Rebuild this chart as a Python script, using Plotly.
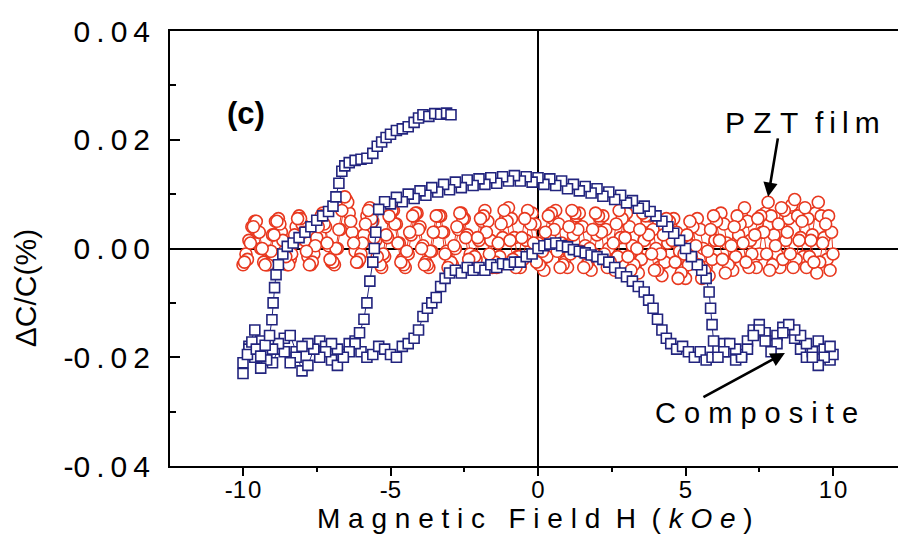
import plotly.graph_objects as go

# ---------------- data ----------------
# PZT film: forward field sweep (-10 -> 10 kOe)
pzt_h_up = [-10.0, -9.9, -9.8, -9.7, -9.6, -9.5, -9.4, -9.3, -9.2, -9.1,
            -9.0, -8.9, -8.8, -8.7, -8.6, -8.5, -8.4, -8.3, -8.2, -8.1,
            -8.0, -7.9, -7.8, -7.7, -7.6, -7.5, -7.4, -7.3, -7.2, -7.1,
            -7.0, -6.9, -6.8, -6.7, -6.6, -6.5, -6.4, -6.3, -6.2, -6.1,
            -6.0, -5.9, -5.8, -5.7, -5.6, -5.5, -5.4, -5.3, -5.2, -5.1,
            -5.0, -4.9, -4.8, -4.7, -4.6, -4.5, -4.4, -4.3, -4.2, -4.1,
            -4.0, -3.9, -3.8, -3.7, -3.6, -3.5, -3.4, -3.3, -3.2, -3.1,
            -3.0, -2.9, -2.8, -2.7, -2.6, -2.5, -2.4, -2.3, -2.2, -2.1,
            -2.0, -1.9, -1.8, -1.7, -1.6, -1.5, -1.4, -1.3, -1.2, -1.1,
            -1.0, -0.9, -0.8, -0.7, -0.6, -0.5, -0.4, -0.3, -0.2, -0.1,
            0.0, 0.1, 0.2, 0.3, 0.4, 0.5, 0.6, 0.7, 0.8, 0.9,
            1.0, 1.1, 1.2, 1.3, 1.4, 1.5, 1.6, 1.7, 1.8, 1.9,
            2.0, 2.1, 2.2, 2.3, 2.4, 2.5, 2.6, 2.7, 2.8, 2.9,
            3.0, 3.1, 3.2, 3.3, 3.4, 3.5, 3.6, 3.7, 3.8, 3.9,
            4.0, 4.1, 4.2, 4.3, 4.4, 4.5, 4.6, 4.7, 4.8, 4.9,
            5.0, 5.1, 5.2, 5.3, 5.4, 5.5, 5.6, 5.7, 5.8, 5.9,
            6.0, 6.1, 6.2, 6.3, 6.4, 6.5, 6.6, 6.7, 6.8, 6.9,
            7.0, 7.1, 7.2, 7.3, 7.4, 7.5, 7.6, 7.7, 7.8, 7.9,
            8.0, 8.1, 8.2, 8.3, 8.4, 8.5, 8.6, 8.7, 8.8, 8.9,
            9.0, 9.1, 9.2, 9.3, 9.4, 9.5, 9.6, 9.7, 9.8, 9.9,
            10.0]
pzt_c_up = [-0.0030, -0.0010, 0.0015, 0.0040, 0.0050, 0.0030, 0.0000, -0.0025, -0.0030, -0.0005,
            0.0025, 0.0050, 0.0055, 0.0030, -0.0005, -0.0030, -0.0020, 0.0010, 0.0040, 0.0060,
            0.0045, 0.0015, -0.0015, -0.0030, -0.0010, 0.0020, 0.0050, 0.0065, 0.0040, 0.0005,
            -0.0025, -0.0030, 0.0000, 0.0035, 0.0070, 0.0090, 0.0065, 0.0030, -0.0005, -0.0025,
            -0.0010, 0.0025, 0.0060, 0.0075, 0.0050, 0.0015, -0.0020, -0.0035, -0.0015, 0.0020,
            0.0055, 0.0070, 0.0045, 0.0010, -0.0020, -0.0035, -0.0010, 0.0025, 0.0060, 0.0065,
            0.0040, 0.0005, -0.0025, -0.0035, -0.0005, 0.0030, 0.0060, 0.0060, 0.0030, -0.0005,
            -0.0030, -0.0030, 0.0000, 0.0035, 0.0065, 0.0055, 0.0025, -0.0010, -0.0035, -0.0020,
            0.0015, 0.0050, 0.0070, 0.0050, 0.0015, -0.0020, -0.0035, -0.0015, 0.0020, 0.0055,
            0.0075, 0.0055, 0.0020, -0.0015, -0.0035, -0.0020, 0.0015, 0.0050, 0.0065, 0.0045,
            0.0010, -0.0025, -0.0040, -0.0015, 0.0020, 0.0055, 0.0070, 0.0045, 0.0010, -0.0025,
            -0.0035, -0.0010, 0.0025, 0.0060, 0.0065, 0.0040, 0.0005, -0.0030, -0.0040, -0.0010,
            0.0025, 0.0055, 0.0060, 0.0035, 0.0000, -0.0030, -0.0040, -0.0015, 0.0020, 0.0055,
            0.0065, 0.0040, 0.0005, -0.0030, -0.0045, -0.0020, 0.0015, 0.0050, 0.0060, 0.0035,
            0.0000, -0.0035, -0.0050, -0.0025, 0.0010, 0.0045, 0.0055, 0.0030, -0.0005, -0.0040,
            -0.0055, -0.0030, 0.0005, 0.0040, 0.0055, 0.0035, 0.0000, -0.0035, -0.0050, -0.0020,
            0.0015, 0.0050, 0.0065, 0.0045, 0.0010, -0.0025, -0.0040, -0.0015, 0.0025, 0.0060,
            0.0075, 0.0050, 0.0015, -0.0020, -0.0035, -0.0010, 0.0030, 0.0065, 0.0085, 0.0060,
            0.0025, -0.0010, -0.0035, -0.0020, 0.0015, 0.0055, 0.0080, 0.0090, 0.0060, 0.0020,
            -0.0015, -0.0035, -0.0015, 0.0025, 0.0065, 0.0085, 0.0060, 0.0020, -0.0020, -0.0040,
            -0.0010]

# PZT film: return field sweep (10 -> -10 kOe)
pzt_h_down = [9.95, 9.85, 9.75, 9.65, 9.55, 9.45, 9.35, 9.25, 9.15, 9.05,
              8.95, 8.85, 8.75, 8.65, 8.55, 8.45, 8.35, 8.25, 8.15, 8.05,
              7.95, 7.85, 7.75, 7.65, 7.55, 7.45, 7.35, 7.25, 7.15, 7.05,
              6.95, 6.85, 6.75, 6.65, 6.55, 6.45, 6.35, 6.25, 6.15, 6.05,
              5.95, 5.85, 5.75, 5.65, 5.55, 5.45, 5.35, 5.25, 5.15, 5.05,
              4.95, 4.85, 4.75, 4.65, 4.55, 4.45, 4.35, 4.25, 4.15, 4.05,
              3.95, 3.85, 3.75, 3.65, 3.55, 3.45, 3.35, 3.25, 3.15, 3.05,
              2.95, 2.85, 2.75, 2.65, 2.55, 2.45, 2.35, 2.25, 2.15, 2.05,
              1.95, 1.85, 1.75, 1.65, 1.55, 1.45, 1.35, 1.25, 1.15, 1.05,
              0.95, 0.85, 0.75, 0.65, 0.55, 0.45, 0.35, 0.25, 0.15, 0.05,
              -0.05, -0.15, -0.25, -0.35, -0.45, -0.55, -0.65, -0.75, -0.85, -0.95,
              -1.05, -1.15, -1.25, -1.35, -1.45, -1.55, -1.65, -1.75, -1.85, -1.95,
              -2.05, -2.15, -2.25, -2.35, -2.45, -2.55, -2.65, -2.75, -2.85, -2.95,
              -3.05, -3.15, -3.25, -3.35, -3.45, -3.55, -3.65, -3.75, -3.85, -3.95,
              -4.05, -4.15, -4.25, -4.35, -4.45, -4.55, -4.65, -4.75, -4.85, -4.95,
              -5.05, -5.15, -5.25, -5.35, -5.45, -5.55, -5.65, -5.75, -5.85, -5.95,
              -6.05, -6.15, -6.25, -6.35, -6.45, -6.55, -6.65, -6.75, -6.85, -6.95,
              -7.05, -7.15, -7.25, -7.35, -7.45, -7.55, -7.65, -7.75, -7.85, -7.95,
              -8.05, -8.15, -8.25, -8.35, -8.45, -8.55, -8.65, -8.75, -8.85, -8.95,
              -9.05, -9.15, -9.25, -9.35, -9.45, -9.55, -9.65, -9.75, -9.85, -9.95]
pzt_c_down = [0.0030, 0.0060, 0.0045, 0.0010, -0.0025, -0.0045, -0.0025, 0.0015, 0.0055, 0.0075,
              0.0050, 0.0015, -0.0020, -0.0035, -0.0010, 0.0030, 0.0070, 0.0075, 0.0045, 0.0005,
              -0.0030, -0.0040, -0.0010, 0.0030, 0.0060, 0.0055, 0.0025, -0.0010, -0.0035, -0.0025,
              0.0010, 0.0045, 0.0060, 0.0040, 0.0005, -0.0030, -0.0045, -0.0020, 0.0015, 0.0050,
              0.0060, 0.0035, -0.0005, -0.0040, -0.0055, -0.0030, 0.0005, 0.0040, 0.0050, 0.0025,
              -0.0010, -0.0045, -0.0055, -0.0025, 0.0015, 0.0050, 0.0055, 0.0025, -0.0010, -0.0040,
              -0.0040, -0.0010, 0.0025, 0.0060, 0.0065, 0.0035, 0.0000, -0.0030, -0.0040, -0.0015,
              0.0020, 0.0055, 0.0070, 0.0045, 0.0010, -0.0025, -0.0035, -0.0010, 0.0030, 0.0060,
              0.0065, 0.0035, 0.0000, -0.0030, -0.0035, -0.0005, 0.0035, 0.0065, 0.0070, 0.0040,
              0.0005, -0.0030, -0.0035, -0.0005, 0.0035, 0.0065, 0.0060, 0.0030, -0.0005, -0.0030,
              -0.0025, 0.0010, 0.0045, 0.0070, 0.0055, 0.0020, -0.0015, -0.0035, -0.0020, 0.0015,
              0.0050, 0.0070, 0.0045, 0.0010, -0.0025, -0.0035, -0.0010, 0.0030, 0.0060, 0.0055,
              0.0020, -0.0015, -0.0035, -0.0020, 0.0020, 0.0055, 0.0065, 0.0040, 0.0005, -0.0025,
              -0.0035, -0.0010, 0.0030, 0.0060, 0.0060, 0.0030, -0.0005, -0.0030, -0.0030, 0.0000,
              0.0035, 0.0065, 0.0060, 0.0030, -0.0005, -0.0030, -0.0025, 0.0010, 0.0045, 0.0070,
              0.0060, 0.0025, -0.0010, -0.0030, -0.0015, 0.0020, 0.0055, 0.0070, 0.0045, 0.0010,
              -0.0020, -0.0025, 0.0010, 0.0050, 0.0085, 0.0095, 0.0070, 0.0035, 0.0000, -0.0025,
              -0.0020, 0.0010, 0.0045, 0.0060, 0.0040, 0.0005, -0.0025, -0.0030, -0.0005, 0.0030,
              0.0055, 0.0055, 0.0025, -0.0010, -0.0030, -0.0015, 0.0015, 0.0045, 0.0050, 0.0025,
              -0.0005, -0.0030, -0.0030, 0.0000, 0.0030, 0.0050, 0.0040, 0.0010, -0.0020, -0.0025]

# Composite: forward sweep (-10 -> 10 kOe), lower branch
comp_h_fwd = [-10.0, -9.8, -9.6, -9.4, -9.2, -9.0, -8.8, -8.6, -8.4, -8.2,
              -8.0, -7.8, -7.6, -7.4, -7.2, -7.0, -6.8, -6.6, -6.4, -6.2,
              -6.0, -5.8, -5.6, -5.4, -5.2, -5.0, -4.8, -4.6, -4.4, -4.2,
              -4.05, -3.9, -3.75, -3.6, -3.45, -3.3, -3.15, -3.0, -2.8, -2.6,
              -2.4, -2.2, -2.0, -1.8, -1.6, -1.4, -1.2, -1.0, -0.8, -0.6,
              -0.4, -0.2, 0.0, 0.2, 0.4, 0.6, 0.8, 1.0, 1.2, 1.4,
              1.6, 1.8, 2.0, 2.2, 2.4, 2.6, 2.8, 3.0, 3.2, 3.4,
              3.6, 3.75, 3.9, 4.05, 4.2, 4.35, 4.5, 4.7, 4.9, 5.1,
              5.3, 5.5, 5.7, 5.9, 6.1, 6.3, 6.5, 6.7, 6.9, 7.1,
              7.3, 7.5, 7.7, 7.9, 8.1, 8.3, 8.5, 8.7, 8.9, 9.1,
              9.3, 9.5, 9.7, 9.9, 10.0]
comp_c_fwd = [-0.0210, -0.0180, -0.0150, -0.0170, -0.0195, -0.0210, -0.0185, -0.0165, -0.0160, -0.0190,
              -0.0225, -0.0215, -0.0185, -0.0170, -0.0180, -0.0205, -0.0215, -0.0195, -0.0175, -0.0170,
              -0.0190, -0.0200, -0.0195, -0.0180, -0.0185, -0.0195, -0.0200, -0.0180, -0.0175, -0.0165,
              -0.0150, -0.0125, -0.0110, -0.0100, -0.0090, -0.0070, -0.0055, -0.0045, -0.0040, -0.0045,
              -0.0035, -0.0040, -0.0035, -0.0040, -0.0030, -0.0035, -0.0028, -0.0030, -0.0025, -0.0025,
              -0.0015, -0.0010, 0.0000, 0.0005, 0.0008, 0.0010, 0.0005, 0.0003, -0.0002, -0.0005,
              -0.0008, -0.0012, -0.0015, -0.0020, -0.0025, -0.0035, -0.0045, -0.0052, -0.0060, -0.0070,
              -0.0080, -0.0095, -0.0110, -0.0130, -0.0150, -0.0165, -0.0175, -0.0185, -0.0180, -0.0190,
              -0.0200, -0.0190, -0.0205, -0.0200, -0.0185, -0.0175, -0.0190, -0.0205, -0.0195, -0.0170,
              -0.0150, -0.0140, -0.0155, -0.0170, -0.0160, -0.0145, -0.0150, -0.0165, -0.0185, -0.0200,
              -0.0190, -0.0170, -0.0185, -0.0205, -0.0195]

# Composite: return sweep (10 -> -10 kOe), upper branch
comp_h_back = [9.9, 9.7, 9.5, 9.3, 9.1, 8.9, 8.7, 8.5, 8.3, 8.1,
               7.9, 7.7, 7.5, 7.3, 7.1, 6.9, 6.7, 6.5, 6.3, 6.1,
               5.95, 5.9, 5.85, 5.8, 5.7, 5.55, 5.4, 5.2, 5.0, 4.8,
               4.6, 4.4, 4.2, 4.0, 3.8, 3.6, 3.4, 3.2, 3.0, 2.8,
               2.6, 2.4, 2.2, 2.0, 1.8, 1.6, 1.4, 1.2, 1.0, 0.8,
               0.6, 0.4, 0.2, 0.0, -0.2, -0.4, -0.6, -0.8, -1.0, -1.2,
               -1.4, -1.6, -1.8, -2.0, -2.2, -2.4, -2.6, -2.8, -3.0, -3.2,
               -3.4, -3.6, -3.8, -4.0, -4.2, -4.4, -4.6, -4.8, -5.0, -5.2,
               -5.4, -5.5, -5.55, -5.6, -5.7, -5.8, -5.9, -6.05, -6.2, -6.4,
               -6.6, -6.8, -7.0, -7.2, -7.4, -7.6, -7.8, -8.0, -8.2, -8.4,
               -8.6, -8.8, -9.0, -9.2, -9.4, -9.6, -9.8, -10.0]
comp_c_back = [-0.0180, -0.0200, -0.0215, -0.0200, -0.0175, -0.0160, -0.0150, -0.0140, -0.0155, -0.0175,
               -0.0190, -0.0170, -0.0150, -0.0160, -0.0185, -0.0200, -0.0185, -0.0175, -0.0190, -0.0200,
               -0.0170, -0.0140, -0.0110, -0.0080, -0.0055, -0.0040, -0.0030, -0.0015, 0.0000, 0.0015,
               0.0028, 0.0040, 0.0050, 0.0060, 0.0068, 0.0078, 0.0074, 0.0088, 0.0084, 0.0098,
               0.0090, 0.0104, 0.0096, 0.0110, 0.0102, 0.0114, 0.0106, 0.0118, 0.0110, 0.0124,
               0.0116, 0.0128, 0.0118, 0.0130, 0.0122, 0.0132, 0.0124, 0.0134, 0.0124, 0.0132,
               0.0120, 0.0130, 0.0118, 0.0128, 0.0116, 0.0126, 0.0112, 0.0122, 0.0108, 0.0118,
               0.0104, 0.0112, 0.0098, 0.0106, 0.0092, 0.0100, 0.0086, 0.0094, 0.0082, 0.0086,
               0.0072, 0.0030, 0.0000, -0.0025, -0.0060, -0.0100, -0.0130, -0.0155, -0.0175, -0.0190,
               -0.0200, -0.0185, -0.0175, -0.0190, -0.0200, -0.0185, -0.0175, -0.0180, -0.0200, -0.0210,
               -0.0190, -0.0175, -0.0185, -0.0205, -0.0220, -0.0200, -0.0185, -0.0230]

# Composite: final forward sweep (-10 -> -3 kOe)
comp_h_rise = [-9.85, -9.7, -9.55, -9.4, -9.25, -9.1, -9.02, -8.98, -8.93, -8.88,
               -8.8, -8.65, -8.5, -8.3, -8.1, -7.9, -7.7, -7.5, -7.3, -7.1,
               -6.95, -6.85, -6.75, -6.65, -6.55, -6.4, -6.2, -6.0, -5.8, -5.6,
               -5.45, -5.3, -5.15, -5.0, -4.8, -4.6, -4.4, -4.2, -4.05, -3.9,
               -3.7, -3.5, -3.3, -3.1, -2.95]
comp_c_rise = [-0.0195, -0.0172, -0.0185, -0.0198, -0.0178, -0.0160, -0.0131, -0.0100, -0.0072, -0.0048,
               -0.0030, -0.0010, 0.0004, 0.0010, 0.0020, 0.0030, 0.0040, 0.0052, 0.0060, 0.0068,
               0.0078, 0.0095, 0.0120, 0.0142, 0.0152, 0.0158, 0.0162, 0.0164, 0.0166, 0.0175,
               0.0188, 0.0196, 0.0204, 0.0210, 0.0217, 0.0220, 0.0224, 0.0232, 0.0240, 0.0246,
               0.0243, 0.0248, 0.0247, 0.0249, 0.0246]

y_tick_vals = [-0.04, -0.02, 0.0, 0.02, 0.04]
y_tick_labels = ["-0.04", "-0.02", "0.00", "0.02", "0.04"]
x_tick_vals = [-10, -5, 0, 5, 10]
x_tick_labels = ["-10", "-5", "0", "5", "10"]

# ---------------- styling helpers ----------------
FONT = "Liberation Sans, Arial, Helvetica, sans-serif"
THIN = "\u2009"
HAIR = "\u200a"
NBSP = "\u00a0"
PZT_RED = "#e8381f"
COMP_BLUE = "#22247e"


def spread(text, gap):
    """Insert a spacing character between glyphs (a minus sign stays attached)."""
    out = ""
    for i, ch in enumerate(text):
        out += ch
        if i < len(text) - 1 and ch != "-":
            out += gap
    return out


pzt_x = pzt_h_up + pzt_h_down
pzt_y = pzt_c_up + pzt_c_down
comp_x = comp_h_fwd + comp_h_back + comp_h_rise
comp_y = comp_c_fwd + comp_c_back + comp_c_rise

fig = go.Figure()

fig.add_trace(go.Scatter(
    x=pzt_x, y=pzt_y, mode="lines+markers", name="PZT film",
    line=dict(color=PZT_RED, width=1),
    marker=dict(symbol="circle", size=12, color="white",
                line=dict(color=PZT_RED, width=1.6)),
))
fig.add_trace(go.Scatter(
    x=comp_x, y=comp_y, mode="lines+markers", name="Composite",
    line=dict(color=COMP_BLUE, width=1),
    marker=dict(symbol="square", size=10, color="white",
                line=dict(color=COMP_BLUE, width=1.6)),
))

x_title = (spread("Magnetic", NBSP) + NBSP * 3 + spread("Field", NBSP) + NBSP * 2 + "H"
           + NBSP * 2 + "(" + NBSP + "<i>k</i>" + NBSP + "<i>O</i>" + NBSP + "<i>e</i>" + NBSP + ")")

annotations = [
    dict(text="<b>(c)</b>", x=-9.9, y=0.0249, xref="x", yref="y", showarrow=False,
         font=dict(family=FONT, size=31, color="black"), xanchor="center", yanchor="middle"),
    dict(text=spread("PZT", NBSP) + NBSP * 2 + spread("film", THIN), x=8.98, y=0.0231,
         xref="x", yref="y", showarrow=False,
         font=dict(family=FONT, size=30, color="black"), xanchor="center", yanchor="middle"),
    dict(text=spread("Composite", NBSP), x=7.42, y=-0.0302, xref="x", yref="y", showarrow=False,
         font=dict(family=FONT, size=29, color="black"), xanchor="center", yanchor="middle"),
    # arrows
    dict(text="", x=7.80, y=0.0095, xref="x", yref="y", ax=10, ay=-60,
         showarrow=True, arrowhead=2, arrowsize=1.1, arrowwidth=2.6, arrowcolor="black", standoff=0),
    dict(text="", x=8.37, y=-0.0192, xref="x", yref="y", ax=-83, ay=45,
         showarrow=True, arrowhead=2, arrowsize=1.1, arrowwidth=2.6, arrowcolor="black", standoff=0),
    # axis titles
    dict(text=x_title, x=0.502, y=-0.1215, xref="paper", yref="paper", showarrow=False,
         font=dict(family=FONT, size=28, color="black"), xanchor="center", yanchor="middle"),
    dict(text="\u0394C/C(%)", x=-0.199, y=0.409, xref="paper", yref="paper", showarrow=False,
         textangle=-90, font=dict(family=FONT, size=30, color="black"),
         xanchor="center", yanchor="middle"),
]

fig.update_layout(
    width=898, height=534, autosize=False,
    margin=dict(l=170, r=0, t=31, b=68, pad=0),
    paper_bgcolor="white", plot_bgcolor="white",
    showlegend=False,
    font=dict(family=FONT, color="black"),
    annotations=annotations,
)

fig.update_xaxes(
    range=[-12.475, 12.203], showgrid=False,
    showline=True, linecolor="black", linewidth=2, mirror=True,
    zeroline=True, zerolinecolor="black", zerolinewidth=2,
    tickmode="array", tickvals=x_tick_vals,
    ticktext=[spread(t, HAIR) for t in x_tick_labels],
    ticks="outside", ticklen=8, tickwidth=2, tickcolor="black",
    ticklabelstandoff=-7,
    tickfont=dict(family=FONT, size=24, color="black"),
    minor=dict(tickmode="array", tickvals=[-7.5, -2.5, 2.5, 7.5],
               ticks="outside", ticklen=4, tickwidth=2, tickcolor="black"),
)
fig.update_yaxes(
    range=[-0.04, 0.04], showgrid=False,
    showline=True, linecolor="black", linewidth=2, mirror=False,
    zeroline=True, zerolinecolor="black", zerolinewidth=2,
    tickmode="array", tickvals=y_tick_vals,
    ticktext=[spread(t, THIN) for t in y_tick_labels],
    ticks="inside", ticklen=10, tickwidth=2, tickcolor="black",
    ticklabelstandoff=12,
    tickfont=dict(family=FONT, size=30, color="black"),
    minor=dict(tickmode="array", tickvals=[-0.03, -0.01, 0.01, 0.03],
               ticks="inside", ticklen=6, tickwidth=2, tickcolor="black"),
)

fig.write_html("out.html", config={"displayModeBar": False})
